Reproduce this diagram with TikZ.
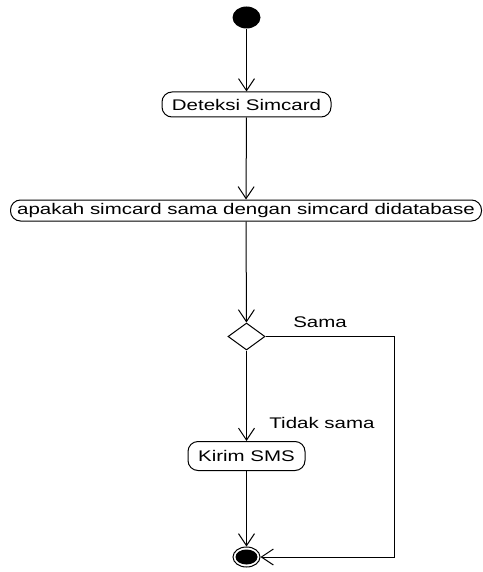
\documentclass[tikz,border=0pt]{standalone}
\usepackage{fontspec}
\newfontfamily\diafont[FakeStretch=1.33]{Liberation Sans}
\usetikzlibrary{arrows.meta,shapes.geometric}
\begin{document}
\begin{tikzpicture}[x=1pt,y=-1pt,
  line width=1pt,
  lbl/.style={font=\diafont\fontsize{15.4}{18}\selectfont, inner sep=0pt},
  act/.style={draw, rounded corners=10pt, inner sep=0pt, font=\diafont\fontsize{15.4}{18}\selectfont},
  arr/.style={-{Straight Barb[length=12pt,width=16pt]}},
]
\useasboundingbox (0,0) rectangle (482,572);
\node[ellipse, fill=black, minimum width=28pt, minimum height=22pt, inner sep=0pt] (start) at (246.5,17.5) {};
\node[act, minimum width=169pt, minimum height=25pt] (det) at (246.5,104.5) {Deteksi Simcard};
\node[act, minimum width=471pt, minimum height=21pt] (apa) at (246,210.5) {apakah simcard sama dengan simcard didatabase};
\node[diamond, draw, minimum width=37pt, minimum height=27pt, inner sep=0pt] (dec) at (246.5,336.5) {};
\node[act, minimum width=117pt, minimum height=29pt] (kirim) at (246.5,456) {Kirim SMS};
\node[ellipse, draw, minimum width=27pt, minimum height=20pt, inner sep=0pt] (end) at (246.5,557) {};
\node[ellipse, fill=black, minimum width=22pt, minimum height=15pt, inner sep=0pt] (endin) at (246.5,557) {};
\coordinate (rc) at (394,336.5);
\node[lbl] (sama) at (320,322) {Sama};
\node[lbl] (tidak) at (322,423) {Tidak sama};
\draw[arr] (start) -- (det);
\draw[arr] (det) -- (apa);
\draw[arr] (apa) -- (dec);
\draw[arr] (dec) -- (kirim);
\draw[arr] (kirim) -- (end);
\draw[arr] (dec.east) -- (rc) |- (end.east);
\end{tikzpicture}
\end{document}
